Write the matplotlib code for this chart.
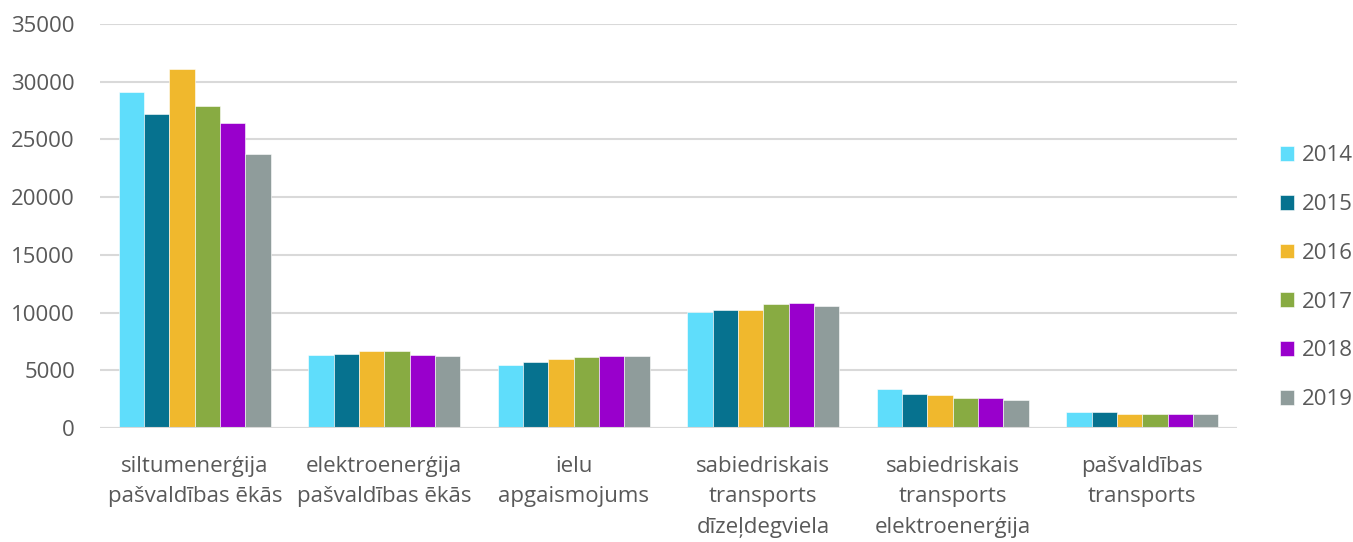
import matplotlib
matplotlib.use("Agg")
import matplotlib.pyplot as plt
import numpy as np

categories = ["siltumenerģija\npašvaldības ēkās", "elektroenerģija\npašvaldības ēkās",
              "ielu\napgaismojums", "sabiedriskais\ntransports\ndīzeļdegviela",
              "sabiedriskais\ntransports\nelektroenerģija", "pašvaldības\ntransports"]
years = ["2014", "2015", "2016", "2017", "2018", "2019"]
colors = ["#5fddfb", "#06728f", "#f0b82d", "#88ab42", "#9900cc", "#8f9c9b"]

v2014 = [29140, 6330, 5460, 10050, 3380, 1360]
v2015 = [27180, 6410, 5690, 10230, 2970, 1360]
v2016 = [31110, 6640, 5950, 10230, 2830, 1210]
v2017 = [27870, 6640, 6150, 10700, 2630, 1210]
v2018 = [26430, 6330, 6240, 10830, 2570, 1210]
v2019 = [23720, 6240, 6210, 10610, 2430, 1210]
series = [v2014, v2015, v2016, v2017, v2018, v2019]

plt.rcParams["font.family"] = ["Open Sans", "DejaVu Sans"]
txt = "#595959"
fs = 16

fig = plt.figure(figsize=(13.53, 5.42), dpi=100)
ax = fig.add_axes([100 / 1353, 1 - 428 / 542, 1137 / 1353, 404 / 542])

x = np.arange(len(categories))
w = 0.8 / len(years)
for i, (yr, vals) in enumerate(zip(years, series)):
    ax.bar(x - 0.4 + w * (i + 0.5), vals, width=w, color=colors[i], label=yr,
           edgecolor="white", linewidth=0.4, zorder=3)

ax.set_xlim(-0.5, len(categories) - 0.5)
ax.set_ylim(0, 35000)
ax.set_yticks(range(0, 35001, 5000))
ax.grid(axis="y", color="#d9d9d9", linewidth=1.5, zorder=0)
for s in ax.spines.values():
    s.set_visible(False)
ax.axhline(0, color="#d9d9d9", linewidth=1.5, zorder=4)
ax.tick_params(axis="y", length=0, pad=18, labelsize=fs, labelcolor=txt)
ax.tick_params(axis="x", length=0, pad=20, labelsize=fs, labelcolor=txt)
ax.set_xticks(x)
ax.set_xticklabels(categories, linespacing=1.6)

leg = ax.legend(loc="center left", bbox_to_anchor=(1.02, 0.372), frameon=False,
                fontsize=fs, labelcolor=txt, handlelength=0.65, handleheight=0.65,
                handletextpad=0.35, labelspacing=1.25)

fig.savefig("out.png", dpi=100)
